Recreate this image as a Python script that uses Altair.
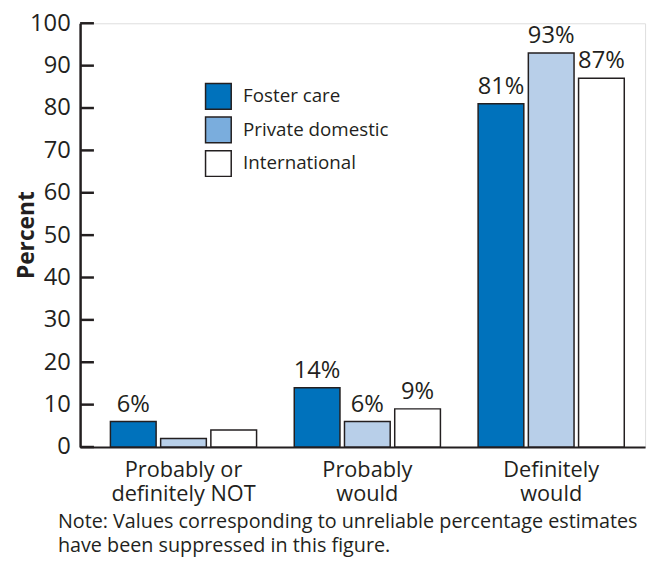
import altair as alt
import pandas as pd

categories = ["Probably or|definitely NOT", "Probably|would", "Definitely|would"]
series = ["Foster care", "Private domestic", "International"]
foster = [6, 14, 81]
private = [2, 6, 93]
international = [4, 9, 87]
foster_lbl = ["6%", "14%", "81%"]
private_lbl = ["", "6%", "93%"]
international_lbl = ["", "9%", "87%"]
bar_colors = ["#0072bc", "#b8cfe9", "#ffffff"]
legend_colors = ["#0072bc", "#7aaddd", "#ffffff"]
y_ticks = [0, 10, 20, 30, 40, 50, 60, 70, 80, 90, 100]
note = ["Note: Values corresponding to unreliable percentage estimates",
        "have been suppressed in this figure."]

rows = []
for vals, lbls, s in [(foster, foster_lbl, series[0]),
                      (private, private_lbl, series[1]),
                      (international, international_lbl, series[2])]:
    for c, v, l in zip(categories, vals, lbls):
        rows.append({"cat": c, "series": s, "value": v, "label": l})
df = pd.DataFrame(rows)
ticks_df = pd.DataFrame({"t": y_ticks})

FONT = "Open Sans"
DARK = "#231f20"

x_enc = alt.X("cat:N", sort=categories,
              scale=alt.Scale(paddingInner=0.205, paddingOuter=0.139, align=0.593),
              axis=alt.Axis(labelExpr="split(datum.label, '|')", labelAngle=0,
                            labelFontSize=22, labelLineHeight=24, labelPadding=13,
                            labelColor=DARK, labelFont=FONT, ticks=False,
                            domainColor=DARK, domainWidth=2,
                            title=note, titleFont=FONT, titleFontSize=20,
                            titleFontWeight="normal", titleColor=DARK,
                            titleAlign="left", titleAnchor="start",
                            titleX=-23, titleY=66, titleBaseline="top",
                            titleLineHeight=24))
xo_enc = alt.XOffset("series:N", sort=series, scale=alt.Scale(paddingInner=0.09))
y_enc = alt.Y("value:Q", scale=alt.Scale(domain=[0, 100], nice=False),
              axis=alt.Axis(values=y_ticks, grid=False, ticks=False,
                            domainColor=DARK, domainWidth=2.5,
                            labelFontSize=24, labelFont=FONT, labelColor=DARK,
                            labelPadding=10,
                            title="Percent", titleFont=FONT, titleFontSize=23,
                            titleFontWeight="bold", titleColor=DARK,
                            titleX=-54, titleY=214, titleBaseline="middle",
                            titleAlign="center", titleAngle=-90))

bars = alt.Chart(df).mark_bar(stroke=DARK, strokeWidth=1.5).encode(
    x=x_enc, xOffset=xo_enc, y=y_enc,
    fill=alt.Fill("series:N", sort=series,
                  scale=alt.Scale(domain=series, range=bar_colors), legend=None),
)

labels = alt.Chart(df).mark_text(baseline="bottom", dy=-5, fontSize=24,
                                 font=FONT, color=DARK).encode(
    x=alt.X("cat:N", sort=categories), xOffset=alt.XOffset("series:N", sort=series),
    y=alt.Y("value:Q"), text="label:N")

tickmarks = alt.Chart(ticks_df).mark_rule(color=DARK, strokeWidth=2.5).encode(
    y=alt.Y("t:Q"), x=alt.value(0), x2=alt.value(14))

legend_layer = alt.Chart(df).mark_square(opacity=0, size=1).encode(
    x=alt.X("cat:N", sort=categories), xOffset=alt.XOffset("series:N", sort=series),
    y=alt.Y("value:Q"),
    fill=alt.Fill("series:N", sort=series,
                  scale=alt.Scale(domain=series, range=legend_colors),
                  legend=alt.Legend(title=None, orient="none", legendX=126, legendY=60,
                                    symbolType="square", symbolSize=676,
                                    symbolStrokeColor=DARK, symbolStrokeWidth=1.5,
                                    symbolOpacity=1, labelFontSize=19, labelFont=FONT,
                                    labelColor=DARK, rowPadding=2, labelOffset=11)),
)

chart = alt.layer(bars, labels, tickmarks, legend_layer).resolve_scale(
    fill="independent"
).properties(
    width=572, height=429,
    padding={"left": 73, "top": 12, "right": 6, "bottom": 116},
    autosize=alt.AutoSizeParams(type="none"),
).configure_view(stroke=None).configure(background="#ffffff")

chart.save("out.html", embed_options={"renderer": "svg", "actions": False})
